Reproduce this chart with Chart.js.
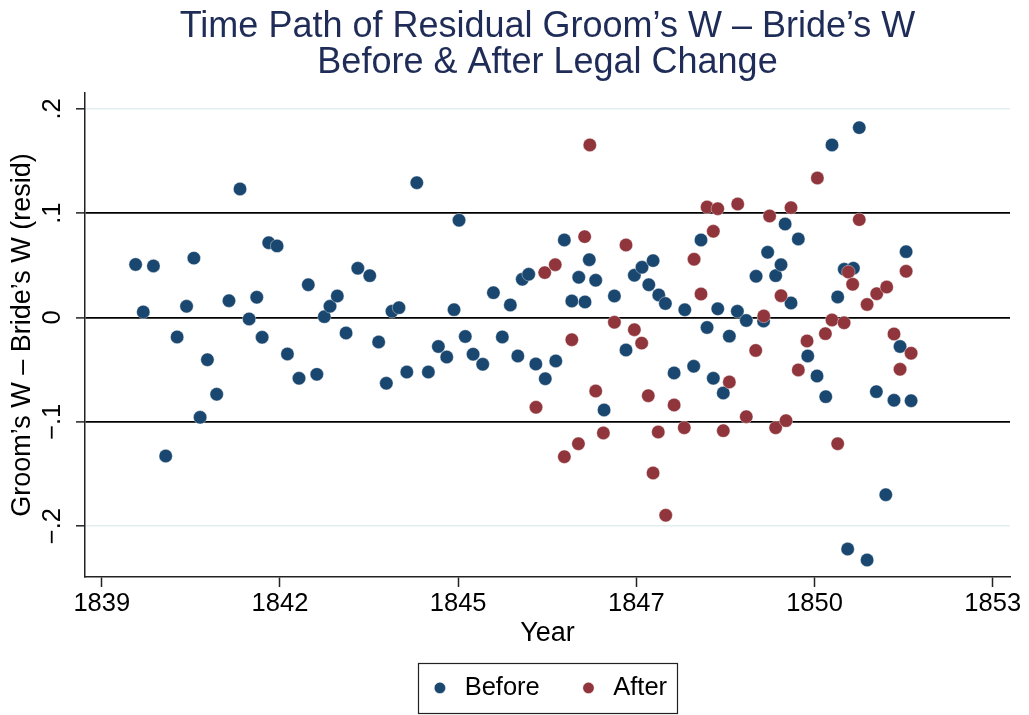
<!DOCTYPE html>
<html>
<head>
<meta charset="utf-8">
<script src="https://cdn.jsdelivr.net/npm/chart.js@4/dist/chart.umd.min.js"></script>
<style>
html,body{margin:0;padding:0;background:#fff;}
#wrap{width:1029px;height:715px;}
</style>
</head>
<body>
<div id="wrap"><canvas id="c" width="1029" height="715"></canvas></div>
<script>
// ---- Data (x = Stata daily date, y = residual) ----
const titleLines = ['Time Path of Residual Groom\u2019s W \u2013 Bride\u2019s W', 'Before & After Legal Change'];
const xTitle = 'Year';
const yTitle = 'Groom\u2019s W \u2013 Bride\u2019s W (resid)';
const seriesNames = ['Before', 'After'];

const xTickValues = [-44000, -43000, -42000, -41000, -40000, -39000];
const xTickLabels = ['1839', '1842', '1845', '1847', '1850', '1853'];
const yTickValues = [-0.2, -0.1, 0, 0.1, 0.2];
const yTickLabels = ['\u2212.2', '\u2212.1', '0', '.1', '.2'];
const refLines = [-0.1, 0, 0.1];

const beforeDates = [-43810, -43767, -43710, -43641, -43577, -43524, -43483, -43448, -43407, -43355,
  -43286, -43224, -43173, -43130, -43100, -43063, -43016, -42958, -42893, -42841,
  -42793, -42751, -42719, -42678, -42629, -42563, -42496, -42446, -42403, -42371,
  -42332, -42288, -42232, -42167, -42111, -42064, -42023, -41995, -41960, -41916,
  -41862, -41802, -41752, -41707, -41665, -41640, -41604, -41564, -41511, -41452,
  -41404, -41362, -41323, -41288, -41264, -41228, -41181, -41123, -41058, -41011,
  -40968, -40930, -40906, -40874, -40837, -40788, -40728, -40678, -40637, -40603,
  -40568, -40543, -40512, -40478, -40433, -40383, -40328, -40286, -40263, -40218,
  -40188, -40165, -40132, -40091, -40038, -39986, -39937, -39902, -39870, -39833,
  -39814, -39782, -39749, -39705, -39653, -39600, -39554, -39520, -39486, -39458];
const beforeResid = [0.0508, 0.0053, 0.0494, -0.1328, -0.0187, 0.0107, 0.0569, -0.0957, -0.0405, -0.0736,
  0.0161, 0.1232, -0.0014, 0.0194, -0.0190, 0.0717, 0.0686, -0.0350, -0.0583, 0.0314,
  -0.0545, 0.0008, 0.0107, 0.0206, -0.0149, 0.0472, 0.0401, -0.0235, -0.0631, 0.0059,
  0.0094, -0.0523, 0.1292, -0.0523, -0.0278, -0.0379, 0.0075, 0.0932, -0.0182, -0.0352,
  -0.0449, 0.0238, -0.0187, 0.0120, -0.0369, 0.0366, 0.0414, -0.0446, -0.0587, -0.0417,
  0.0743, 0.0158, 0.0385, 0.0149, 0.0554, 0.0357, -0.0887, 0.0206, -0.0312, 0.0405,
  0.0481, 0.0314, 0.0545, 0.0216, 0.0134, -0.0532, 0.0074, -0.0468, 0.0743, -0.0096,
  -0.0583, 0.0083, -0.0724, -0.0179, 0.0059, -0.0029, 0.0395, -0.0034, 0.0625, 0.0401,
  0.0506, 0.0896, 0.0139, 0.0753, -0.0369, -0.0561, -0.0759, 0.1654, 0.0197, 0.0462,
  -0.2220, 0.0472, 0.1820, -0.2325, -0.0711, -0.1699, -0.0794, -0.0278, 0.0631, -0.0798];

const afterDates = [-41563, -41514, -41455, -41404, -41362, -41325, -41290, -41261, -41228, -41185,
  -41123, -41058, -41011, -40970, -40933, -40906, -40877, -40835, -40788, -40731,
  -40676, -40637, -40603, -40568, -40543, -40512, -40478, -40431, -40383, -40330,
  -40285, -40252, -40218, -40188, -40160, -40132, -40091, -40042, -39984, -39939,
  -39902, -39870, -39834, -39810, -39786, -39749, -39705, -39651, -39595, -39554,
  -39520, -39486, -39458];
const afterResid = [-0.0861, 0.0430, 0.0506, -0.1335, -0.0213, -0.1210, 0.0775, 0.1654, -0.0705, -0.1107,
  -0.0046, 0.0695, -0.0117, -0.0246, -0.0750, -0.1491, -0.1098, -0.1896, -0.0839, -0.1057,
  0.0558, 0.0225, 0.1059, 0.0826, 0.1043, -0.1085, -0.0618, 0.1088, -0.0951, -0.0316,
  0.0014, 0.0973, -0.1057, 0.0209, -0.0989, 0.1053, -0.0503, -0.0225, 0.1337, -0.0155,
  -0.0024, -0.1210, -0.0051, 0.0436, 0.0318, 0.0938, 0.0125, 0.0228, 0.0292, -0.0158,
  -0.0497, 0.0443, -0.0343];

// ---- Styling ----
const FONT = '"Liberation Sans", Arial, Helvetica, sans-serif';
const NAVY = '#1a476f';
const MAROON = '#90353b';
const AXIS = '#222222';

Chart.defaults.font.family = FONT;
Chart.defaults.color = '#000';

const toPoints = (xs, ys) => xs.map((x, i) => ({ x: x, y: ys[i] }));

const legendFrame = {
  id: 'legendFrame',
  afterDraw(chart) {
    const lg = chart.legend;
    if (!lg || !lg.legendHitBoxes || !lg.legendHitBoxes.length) return;
    let l = Infinity, r = -Infinity, t = Infinity, b = -Infinity;
    lg.legendHitBoxes.forEach(h => {
      l = Math.min(l, h.left); r = Math.max(r, h.left + h.width);
      t = Math.min(t, h.top); b = Math.max(b, h.top + h.height);
    });
    const ctx = chart.ctx;
    ctx.save();
    ctx.strokeStyle = AXIS;
    ctx.lineWidth = 1.2;
    ctx.strokeRect(Math.round(l - 10) + 0.5, Math.round(t - 12) + 0.5, Math.round(r - l + 20), Math.round(b - t + 24));
    ctx.restore();
  }
};

new Chart(document.getElementById('c'), {
  type: 'scatter',
  data: {
    datasets: [
      {
        label: seriesNames[0],
        data: toPoints(beforeDates, beforeResid),
        backgroundColor: NAVY,
        borderColor: 'rgba(255,255,255,0.55)',
        borderWidth: 0.7,
        pointRadius: 6.7,
        pointHoverRadius: 6.7,
        pointStyle: 'circle',
        order: 1
      },
      {
        label: seriesNames[1],
        data: toPoints(afterDates, afterResid),
        backgroundColor: MAROON,
        borderColor: 'rgba(255,255,255,0.55)',
        borderWidth: 0.7,
        pointRadius: 6.7,
        pointHoverRadius: 6.7,
        pointStyle: 'circle',
        order: 0
      }
    ]
  },
  options: {
    responsive: false,
    animation: false,
    events: [],
    layout: { padding: { left: 0, right: 19, top: 8, bottom: 4.3 } },
    plugins: {
      tooltip: { enabled: false },
      title: {
        display: true,
        text: titleLines,
        color: '#1e2c57',
        fullSize: false,
        font: { family: FONT, size: 36, weight: 'normal', lineHeight: 1.0 },
        padding: { top: 0.8, bottom: 12.2 }
      },
      legend: {
        display: true,
        position: 'bottom',
        fullSize: false,
        labels: {
          usePointStyle: true,
          pointStyle: 'circle',
          boxWidth: 24,
          boxHeight: 8,
          padding: 36.7,
          color: '#000',
          font: { family: FONT, size: 25.5 },
          sort: (a, b) => a.datasetIndex - b.datasetIndex
        }
      }
    },
    scales: {
      x: {
        type: 'linear',
        position: 'bottom',
        min: -44094,
        max: -38903,
        afterBuildTicks: s => { s.ticks = xTickValues.map(v => ({ value: v })); },
        afterFit: s => { s.height = 61.5; },
        ticks: {
          autoSkip: false,
          maxRotation: 0,
          padding: 2,
          color: '#000',
          font: { family: FONT, size: 25.5, lineHeight: 1.2 },
          callback: v => xTickLabels[xTickValues.indexOf(v)]
        },
        grid: {
          drawOnChartArea: false,
          drawTicks: true,
          tickLength: 10,
          tickColor: AXIS,
          tickWidth: 1.5
        },
        border: { display: true, color: AXIS, width: 1.5 },
        title: {
          display: true,
          text: xTitle,
          color: '#000',
          font: { family: FONT, size: 27, lineHeight: 1.2 },
          padding: { top: 0, bottom: -10.9 }
        }
      },
      y: {
        type: 'linear',
        position: 'left',
        min: -0.2488,
        max: 0.2152,
        afterBuildTicks: s => { s.ticks = yTickValues.map(v => ({ value: v })); },
        afterFit: s => { s.width = 85; },
        ticks: {
          autoSkip: false,
          minRotation: 90,
          maxRotation: 90,
          crossAlign: 'center',
          padding: 4.9,
          color: '#000',
          font: { family: FONT, size: 25.5, lineHeight: 1.2 },
          callback: v => yTickLabels[yTickValues.indexOf(v)]
        },
        grid: {
          drawTicks: true,
          tickLength: 9,
          tickColor: AXIS,
          tickWidth: 1.5,
          color: c => (c.tick && refLines.indexOf(c.tick.value) >= 0) ? '#000000' : '#e4edf0',
          lineWidth: c => (c.tick && refLines.indexOf(c.tick.value) >= 0) ? 1.8 : 1.6
        },
        border: { display: true, color: AXIS, width: 1.5 },
        title: {
          display: true,
          text: yTitle,
          color: '#000',
          font: { family: FONT, size: 27, lineHeight: 1.2 },
          padding: { top: 6.4, bottom: 0 }
        }
      }
    }
  },
  plugins: [legendFrame]
});
</script>
</body>
</html>
